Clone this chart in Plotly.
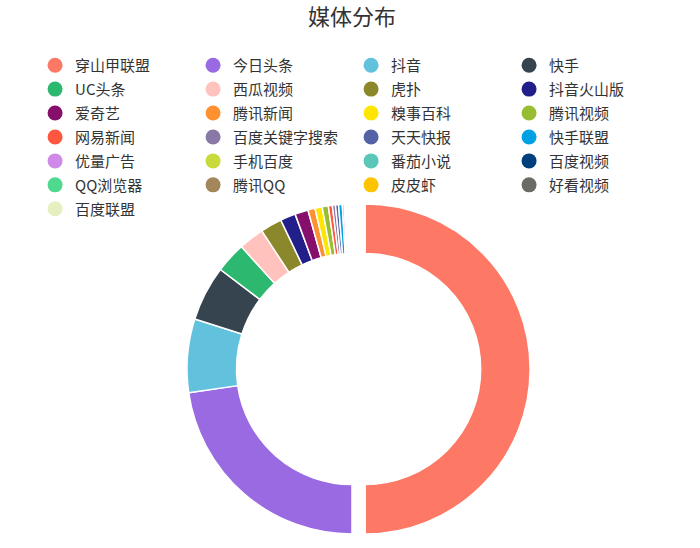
"""Media distribution donut chart"""
import plotly.graph_objects as go

labels = [
    '穿山甲联盟', '今日头条', '抖音', '快手', 'UC头条', '西瓜视频', '虎扑', '抖音火山版',
    '爱奇艺', '腾讯新闻', '糗事百科', '腾讯视频', '网易新闻', '百度关键字搜索', '天天快报', '快手联盟',
    '优量广告', '手机百度', '番茄小说', '百度视频', 'QQ浏览器', '腾讯QQ', '皮皮虾', '好看视频',
    '百度联盟',
]
values = [
    5000, 2270, 720, 540, 300, 250, 210, 150,
    130, 70, 70, 60, 40, 30, 30, 36,
    20, 12, 10, 10, 10, 8, 8, 8,
    8,
]
colors = [
    '#fe7866', '#9a6ae3', '#62c1dc', '#35444f', '#2db870', '#ffc2bc', '#8b872b', '#231f8a',
    '#860f6c', '#ff9130', '#ffe600', '#97be32', '#ff5640', '#8a78a6', '#5462a6', '#00a0e4',
    '#cf8ae9', '#c9da3c', '#5ac7b8', '#003f7e', '#4fd98e', '#a3865b', '#ffc400', '#6b6b66',
    '#e6efc0',
]

FONT = 'Noto Sans CJK SC, Noto Sans, sans-serif'

fig = go.Figure()

fig.add_trace(go.Pie(
    labels=labels,
    values=values,
    sort=False,
    direction='clockwise',
    rotation=0,
    hole=0.7,
    pull=[0.08] + [0] * (len(labels) - 1),
    marker=dict(colors=colors, line=dict(color='white', width=1.5)),
    textinfo='none',
    showlegend=False,
    domain=dict(x=[0.2483, 0.7574], y=[0.0015, 0.6518]),
))

# circle legend entries (the pie itself would give squares)
for name, c in zip(labels, colors):
    fig.add_trace(go.Scatter(
        x=[None], y=[None], mode='markers',
        name=f'<span style="font-size:15px">{name}</span>',
        marker=dict(size=15, color=c, symbol='circle'),
    ))

fig.update_layout(
    width=700,
    height=548,
    margin=dict(l=0, r=0, t=0, b=0),
    paper_bgcolor='white',
    plot_bgcolor='white',
    font=dict(family=FONT, size=15, color='#333333'),
    title=dict(text='媒体分布', x=0.503, xanchor='center', y=0.968, yanchor='middle',
               font=dict(family=FONT, size=22, color='#333333')),
    xaxis=dict(visible=False),
    yaxis=dict(visible=False),
    legend=dict(
        orientation='h',
        x=0.0501, xanchor='left',
        y=0.912, yanchor='top',
        entrywidth=113,
        itemsizing='trace',
        font=dict(family=FONT, size=16.1, color='#333333'),
        bgcolor='rgba(0,0,0,0)',
    ),
)

# drop the page's default body margin so the figure sits at the window corner
fig.write_html(
    "out.html",
    config={'displayModeBar': False},
    post_script="document.body.style.margin = '0';",
)
